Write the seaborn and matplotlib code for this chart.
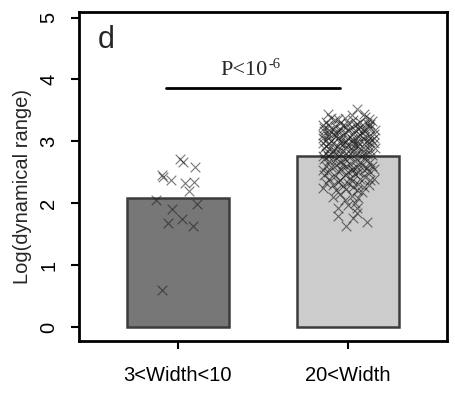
import matplotlib
matplotlib.use('Agg')
import matplotlib.pyplot as plt
import seaborn as sns
import pandas as pd

# ---- data ----
categories = ['3<Width<10', '20<Width']
bar_heights = [2.09, 2.77]
bar_colors = ['#777777', '#cccccc']

g1_jit = [0.013, 0.032, 0.10, -0.095, -0.089, -0.038, 0.042, 0.097, 0.066,
          -0.126, 0.11, -0.032, 0.022, -0.06, 0.089, -0.093]
g1_vals = [2.72, 2.67, 2.58, 2.46, 2.43, 2.37, 2.33, 2.35, 2.20,
           2.05, 1.99, 1.90, 1.75, 1.68, 1.63, 0.60]

g2_points = [
    (0.05, 3.52), (-0.12, 3.44), (0.10, 3.40), (-0.02, 3.38), (0.12, 3.36), (-0.08, 3.35), (0.03, 3.34),
    (-0.13, 3.32), (0.07, 3.31), (0.14, 3.33), (-0.05, 3.30), (0.00, 3.30), (0.09, 3.45), (-0.10, 3.38),
    (0.13, 3.28), (-0.15, 3.27), (0.02, 3.42), (-0.06, 3.36), (0.11, 3.30), (0.04, 3.27),
    (-0.14, 3.22), (-0.11, 3.18), (-0.08, 3.25), (-0.05, 3.20), (-0.02, 3.15), (0.01, 3.22), (0.04, 3.18),
    (0.07, 3.24), (0.10, 3.16), (0.13, 3.21), (0.15, 3.12), (-0.15, 3.10), (-0.12, 3.08), (-0.09, 3.12),
    (-0.06, 3.05), (-0.03, 3.10), (0.00, 3.06), (0.03, 3.12), (0.06, 3.08), (0.09, 3.04), (0.12, 3.09),
    (0.14, 3.02), (-0.13, 3.03), (-0.10, 3.00), (-0.07, 3.14), (-0.04, 3.02), (-0.01, 3.00), (0.02, 3.04),
    (0.05, 3.01), (0.08, 3.15), (0.11, 3.01), (-0.14, 3.16), (0.16, 3.18), (-0.12, 3.26), (0.05, 3.28),
    (-0.03, 3.27), (0.09, 3.22), (-0.09, 3.20), (0.12, 3.25), (0.00, 3.17), (-0.06, 3.15), (0.07, 3.11),
    (-0.15, 3.05), (0.15, 3.06), (0.03, 3.02), (-0.11, 3.12), (0.10, 3.09), (-0.01, 3.24), (0.06, 3.20),
    (-0.07, 3.08),
    (-0.15, 2.98), (-0.12, 2.95), (-0.09, 2.97), (-0.06, 2.93), (-0.03, 2.96), (0.00, 2.94), (0.03, 2.97),
    (0.06, 2.92), (0.09, 2.96), (0.12, 2.93), (0.15, 2.97), (-0.14, 2.90), (-0.11, 2.87), (-0.08, 2.90),
    (-0.05, 2.86), (-0.02, 2.89), (0.01, 2.86), (0.04, 2.90), (0.07, 2.85), (0.10, 2.88), (0.13, 2.86),
    (-0.13, 2.82), (-0.10, 2.80), (-0.07, 2.83), (-0.04, 2.79), (-0.01, 2.82), (0.02, 2.78), (0.05, 2.81),
    (0.08, 2.77), (0.11, 2.80), (0.14, 2.78), (-0.15, 2.76), (-0.12, 2.77), (-0.06, 2.76), (0.00, 2.76),
    (0.03, 2.84), (0.06, 2.98), (-0.09, 2.84), (0.12, 2.99), (-0.02, 2.99), (0.09, 2.82), (-0.13, 2.93),
    (0.16, 2.90), (0.04, 2.95), (-0.05, 2.98),
    (-0.14, 2.72), (-0.11, 2.68), (-0.08, 2.70), (-0.05, 2.66), (-0.02, 2.72), (0.01, 2.64), (0.04, 2.69),
    (0.07, 2.66), (0.10, 2.71), (0.13, 2.67), (-0.13, 2.60), (-0.10, 2.58), (-0.07, 2.62), (-0.04, 2.56),
    (-0.01, 2.60), (0.02, 2.55), (0.05, 2.59), (0.08, 2.62), (0.11, 2.57), (0.14, 2.60), (-0.15, 2.54),
    (-0.12, 2.51), (-0.06, 2.52), (0.00, 2.50), (0.03, 2.53), (0.06, 2.51), (0.09, 2.54), (0.12, 2.52),
    (-0.03, 2.64), (0.15, 2.55),
    (-0.14, 2.46), (-0.11, 2.40), (-0.08, 2.44), (-0.05, 2.38), (-0.02, 2.45), (0.01, 2.41), (0.04, 2.47),
    (0.07, 2.39), (0.10, 2.43), (0.13, 2.37), (-0.13, 2.33), (-0.09, 2.30), (-0.06, 2.34), (-0.03, 2.28),
    (0.00, 2.32), (0.03, 2.27), (0.06, 2.31), (0.09, 2.26), (0.12, 2.29), (-0.15, 2.25), (-0.01, 2.23),
    (0.05, 2.21), (-0.07, 2.22), (0.15, 2.40), (0.02, 2.36),
    (-0.05, 2.15), (0.02, 2.12), (0.06, 2.08), (-0.02, 2.05), (0.04, 2.00), (0.08, 2.18), (-0.09, 2.10),
    (0.00, 1.97), (0.05, 1.93), (-0.06, 1.92),
    (-0.06, 1.80), (0.05, 1.85), (-0.015, 1.64), (0.11, 1.69), (0.03, 1.76),
]
g2_jit = [p[0] for p in g2_points]
g2_vals = [p[1] for p in g2_points]

p_main = 'P<10'
p_exp = '-6'
y_label = 'Log(dynamical range)'
panel_label = 'd'

# ---- plot ----
sns.set_style('ticks')
plt.rcParams['font.family'] = ['Liberation Sans', 'DejaVu Sans']

fig = plt.figure(figsize=(4.55, 3.93), dpi=100)
ax = fig.add_axes([0.1736, 0.133, 0.8088, 0.8365])

bars_df = pd.DataFrame({'cat': categories, 'val': bar_heights})
sns.barplot(data=bars_df, x='cat', y='val', hue='cat', palette=bar_colors,
            legend=False, width=0.6, edgecolor='#3c3c3c', linewidth=1.8, ax=ax)

pts_df = pd.DataFrame({
    'x': [0 + j for j in g1_jit] + [1 + j for j in g2_jit],
    'y': g1_vals + g2_vals,
})
sns.scatterplot(data=pts_df, x='x', y='y', marker='x', color='#1a1a1a',
                s=48, linewidth=0.8, alpha=0.6, ax=ax, zorder=3)

ax.set_xlim(-0.58, 1.58)
ax.set_ylim(-0.22, 5.09)
ax.set_yticks([0, 1, 2, 3, 4, 5])
ax.set_xticks([0, 1])
ax.set_xticklabels(categories)
ax.set_xlabel('')
ax.set_ylabel(y_label, fontsize=14.5)
ax.yaxis.set_label_coords(-0.128, 0.47)

for sp in ax.spines.values():
    sp.set_visible(True)
    sp.set_linewidth(2)
    sp.set_color('black')

ax.tick_params(axis='both', direction='out', length=6, width=1.5, labelsize=14.5, colors='black')
ax.tick_params(axis='x', pad=12)
ax.tick_params(axis='y', pad=9)
for lab in ax.get_yticklabels():
    lab.set_rotation(90)
    lab.set_va('center')

# significance annotation
ax.plot([-0.07, 0.95], [3.87, 3.87], color='black', lw=2)
ax.text(0.527, 4.07, p_main, ha='right', va='baseline', fontsize=16, family='Liberation Serif')
ax.text(0.535, 4.19, p_exp, ha='left', va='baseline', fontsize=10.5, family='Liberation Serif')

ax.text(-0.47, 4.64, panel_label, ha='left', va='center', fontsize=22)

fig.savefig('out.png', dpi=100)
